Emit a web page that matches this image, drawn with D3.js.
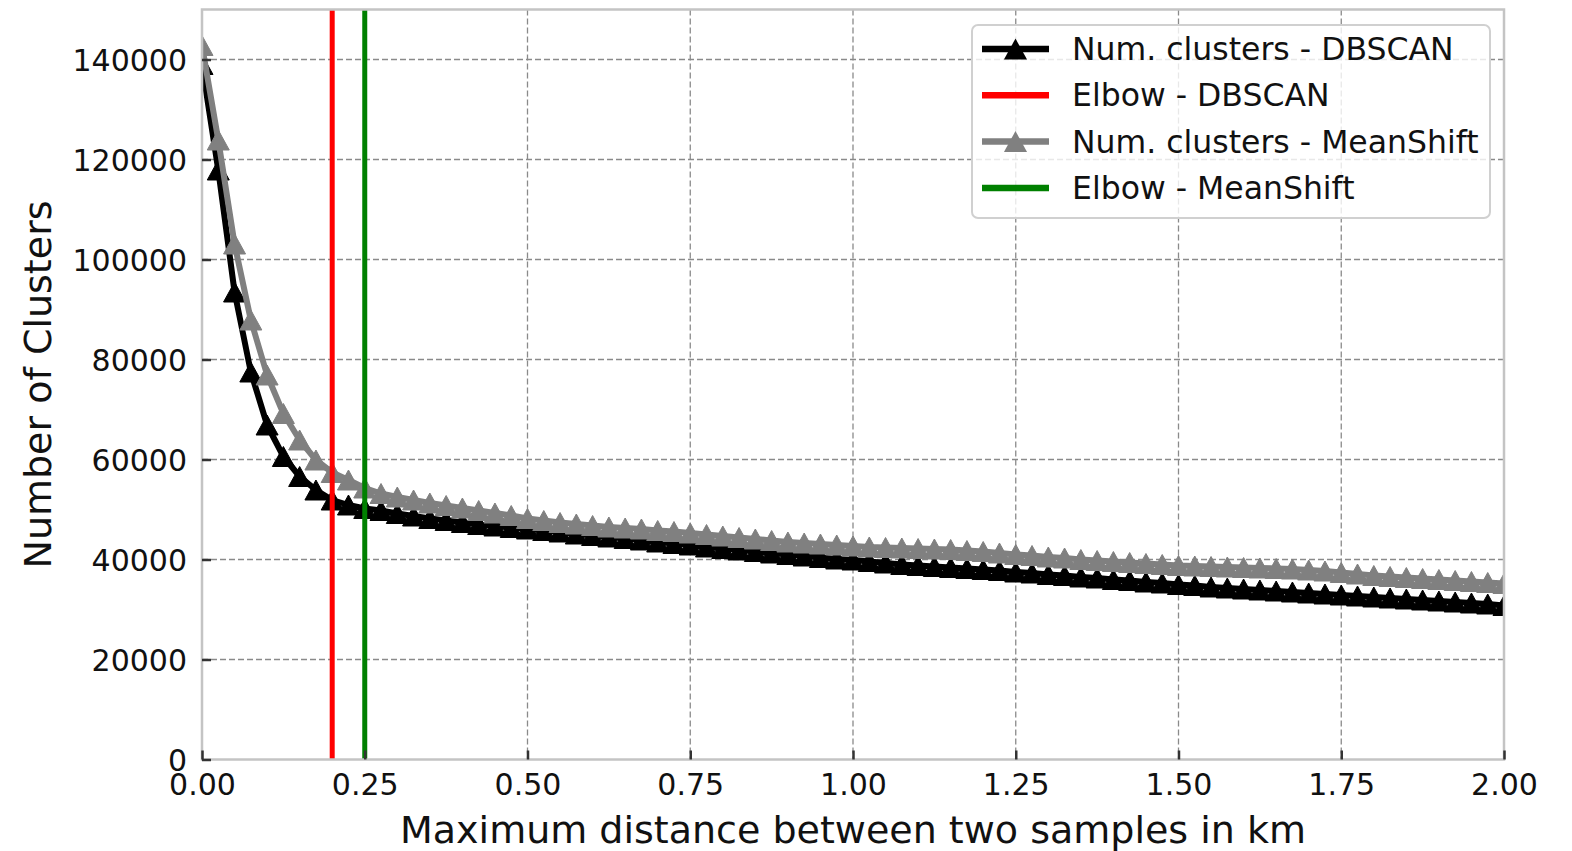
<!DOCTYPE html>
<html>
<head>
<meta charset="utf-8">
<script src="https://cdn.jsdelivr.net/npm/d3@7"></script>
<style>
  body { margin: 0; background: #fff; }
  svg { display: block; font-family: "DejaVu Sans", sans-serif; }
</style>
</head>
<body>
<div id="chart"></div>
<script>
// max distance (km) at which the clusters were counted
var distances = [
  0.000, 0.025, 0.050, 0.075, 0.100, 0.125, 0.150, 0.175, 0.200, 0.225,
  0.250, 0.275, 0.300, 0.325, 0.350, 0.375, 0.400, 0.425, 0.450, 0.475,
  0.500, 0.525, 0.550, 0.575, 0.600, 0.625, 0.650, 0.675, 0.700, 0.725,
  0.750, 0.775, 0.800, 0.825, 0.850, 0.875, 0.900, 0.925, 0.950, 0.975,
  1.000, 1.025, 1.050, 1.075, 1.100, 1.125, 1.150, 1.175, 1.200, 1.225,
  1.250, 1.275, 1.300, 1.325, 1.350, 1.375, 1.400, 1.425, 1.450, 1.475,
  1.500, 1.525, 1.550, 1.575, 1.600, 1.625, 1.650, 1.675, 1.700, 1.725,
  1.750, 1.775, 1.800, 1.825, 1.850, 1.875, 1.900, 1.925, 1.950, 1.975,
  2.000
]

var clustersDBSCAN = [
  139000, 117900, 93500, 77500, 66900, 60600, 56600, 53900, 51900, 50900,
  50200, 49800, 49200, 48700, 48200, 47800, 47400, 47000, 46700, 46400,
  46100, 45800, 45500, 45100, 44800, 44500, 44200, 43900, 43500, 43200,
  42900, 42500, 42200, 41900, 41600, 41300, 41000, 40700, 40400, 40100,
  39900, 39600, 39300, 39000, 38800, 38600, 38400, 38200, 38000, 37800,
  37500, 37300, 37000, 36800, 36500, 36300, 36000, 35800, 35500, 35300,
  35000, 34800, 34500, 34300, 34100, 33900, 33700, 33500, 33300, 33100,
  32900, 32700, 32500, 32300, 32100, 31900, 31700, 31500, 31300, 31100,
  30800
]

var clustersMeanShift = [
  142800, 123900, 103100, 87900, 76900, 69200, 63900, 59900, 57400, 55900,
  54300, 53200, 52500, 51900, 51300, 50800, 50300, 49800, 49300, 48800,
  48200, 47800, 47400, 47100, 46800, 46500, 46300, 46100, 45800, 45600,
  45300, 45000, 44700, 44400, 44100, 43800, 43500, 43300, 43100, 42900,
  42700, 42500, 42400, 42300, 42200, 42100, 42000, 41800, 41600, 41300,
  41000, 40800, 40500, 40300, 40000, 39800, 39600, 39400, 39200, 39000,
  38800, 38700, 38600, 38500, 38400, 38300, 38200, 38100, 37900, 37700,
  37400, 37100, 36800, 36600, 36400, 36200, 36000, 35800, 35600, 35400,
  35200
]

var elbowDBSCAN = 0.20
var elbowMeanShift = 0.25

var xTicks = [0, 0.25, 0.5, 0.75, 1.0, 1.25, 1.5, 1.75, 2.0]
var yTicks = [0, 20000, 40000, 60000, 80000, 100000, 120000, 140000]

var legendLabels = ["Num. clusters - DBSCAN", "Elbow - DBSCAN", "Num. clusters - MeanShift", "Elbow - MeanShift"]

var W = 1572, H = 851
var margin = {left: 202, right: 68, top: 9.5, bottom: 91.5}
var pw = W - margin.left - margin.right
var ph = H - margin.top - margin.bottom

var svg = d3.select("#chart").append("svg").attr("width", W).attr("height", H)

var x = d3.scaleLinear().domain([0, 2]).range([0, pw])
var y = d3.scaleLinear().domain([0, 150000]).range([ph, 0])

var g = svg.append("g").attr("transform", "translate(" + margin.left + "," + margin.top + ")")

svg.append("defs").append("clipPath").attr("id", "clip")
  .append("rect").attr("width", pw).attr("height", ph)

// grid
var gridStyle = function(sel){
  sel.attr("stroke", "#8a8a8a").attr("stroke-width", 1.3).attr("stroke-dasharray", "6,3")
}
g.append("g").selectAll("line").data(xTicks.slice(1, -1)).enter().append("line")
  .attr("x1", d => x(d)).attr("x2", d => x(d)).attr("y1", 0).attr("y2", ph)
  .call(gridStyle)
g.append("g").selectAll("line").data(yTicks.slice(1)).enter().append("line")
  .attr("x1", 0).attr("x2", pw).attr("y1", d => y(d)).attr("y2", d => y(d))
  .call(gridStyle)

// triangle marker
function tri(s){
  var hw = s * 0.55, hh = s * 0.5
  return "M0," + (-hh) + "L" + hw + "," + hh + "L" + (-hw) + "," + hh + "Z"
}

var plotArea = g.append("g").attr("clip-path", "url(#clip)")

function drawSeries(values, colour){
  var pts = distances.map((d, i) => ({x: d, y: values[i]}))
  var line = d3.line().x(d => x(d.x)).y(d => y(d.y))
  plotArea.append("path").datum(pts)
    .attr("d", line).attr("fill", "none")
    .attr("stroke", colour).attr("stroke-width", 6).attr("stroke-linejoin", "round")
  plotArea.append("g").selectAll("path").data(pts).enter().append("path")
    .attr("d", tri(20))
    .attr("transform", d => "translate(" + x(d.x) + "," + y(d.y) + ")")
    .attr("fill", colour).attr("stroke", colour).attr("stroke-width", 1)
}

function drawElbow(v, colour){
  plotArea.append("line")
    .attr("x1", x(v)).attr("x2", x(v)).attr("y1", 0).attr("y2", ph)
    .attr("stroke", colour).attr("stroke-width", 5)
}

drawSeries(clustersDBSCAN, "#000000")
drawSeries(clustersMeanShift, "#808080")
drawElbow(elbowDBSCAN, "#ff0000")
drawElbow(elbowMeanShift, "#008000")

// frame
g.append("rect").attr("width", pw).attr("height", ph)
  .attr("fill", "none").attr("stroke", "#c4c4c4").attr("stroke-width", 2.5)

// axes, ticks pointing in
var xAxis = d3.axisBottom(x).tickValues(xTicks).tickFormat(d3.format(".2f")).tickSizeInner(-9).tickSizeOuter(0).tickPadding(14)
var yAxis = d3.axisLeft(y).tickValues(yTicks).tickFormat(d3.format("d")).tickSizeInner(-9).tickSizeOuter(0).tickPadding(15)

var xa = g.append("g").attr("transform", "translate(0," + ph + ")").call(xAxis)
var ya = g.append("g").call(yAxis)
;[xa, ya].forEach(function(a){
  a.select(".domain").remove()
  a.selectAll(".tick line").attr("stroke", "#333").attr("stroke-width", 2.5)
  a.selectAll(".tick text").attr("fill", "#111").style("font-size", "30px")
    .style("font-family", "DejaVu Sans")
})
xa.selectAll(".tick text").attr("dy", "0.71em")
ya.selectAll(".tick text").attr("dy", "0.36em")

// axis titles
svg.append("text")
  .attr("x", margin.left + pw / 2).attr("y", 843)
  .attr("text-anchor", "middle").style("font-size", "38px").attr("fill", "#111")
  .text("Maximum distance between two samples in km")

svg.append("text")
  .attr("transform", "translate(51," + (margin.top + ph / 2) + ") rotate(-90)")
  .attr("text-anchor", "middle").style("font-size", "38px").attr("fill", "#111")
  .text("Number of Clusters")

// legend
var legend = svg.append("g").attr("transform", "translate(972,25)")
legend.append("rect").attr("width", 518).attr("height", 193).attr("rx", 6)
  .attr("fill", "#fff").attr("fill-opacity", 0.8)
  .attr("stroke", "#d0d0d0").attr("stroke-width", 2)

var legendItems = [
  {label: legendLabels[0], colour: "#000000", marker: true},
  {label: legendLabels[1], colour: "#ff0000", marker: false},
  {label: legendLabels[2], colour: "#808080", marker: true},
  {label: legendLabels[3], colour: "#008000", marker: false}
]
var rows = legend.selectAll(".item").data(legendItems).enter().append("g")
  .attr("class", "item")
  .attr("transform", (d, i) => "translate(0," + (24 + i * 46.3) + ")")
rows.append("line").attr("x1", 10).attr("x2", 77).attr("y1", 0).attr("y2", 0)
  .attr("stroke", d => d.colour).attr("stroke-width", 6.5)
rows.filter(d => d.marker).append("path")
  .attr("d", tri(21)).attr("transform", "translate(43.5,0)")
  .attr("fill", d => d.colour)
rows.append("text").attr("x", 100).attr("y", 11)
  .style("font-size", "31.5px").attr("fill", "#111")
  .text(d => d.label)
</script>
</body>
</html>
